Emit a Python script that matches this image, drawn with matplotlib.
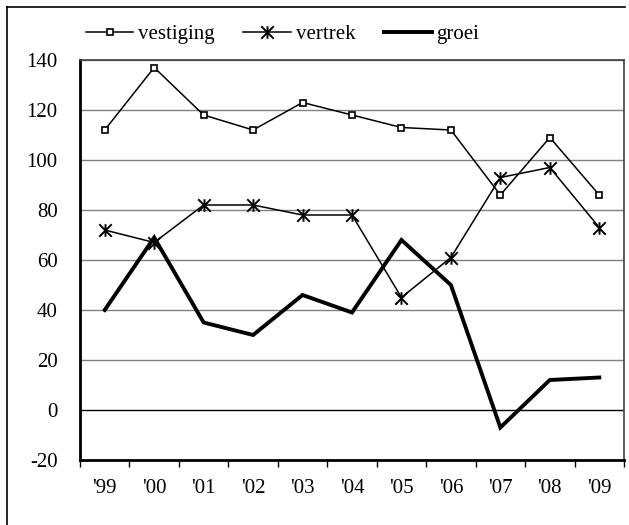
import numpy as np
import matplotlib.pyplot as plt
from matplotlib.lines import Line2D
from matplotlib.path import Path

# jaartallen en reeksen
jaren = ["'99", "'00", "'01", "'02", "'03", "'04", "'05", "'06", "'07", "'08", "'09"]
vestiging = [112, 137, 118, 112, 123, 118, 113, 112, 86, 109, 86]
vertrek = [72, 67, 82, 82, 78, 78, 45, 61, 93, 97, 73]
groei = [40, 69, 35, 30, 46, 39, 68, 50, -7, 12, 13]

plt.rcParams['font.family'] = ['Liberation Serif', 'DejaVu Serif']
plt.rcParams['axes.unicode_minus'] = False

# Excel-achtige ster: kruis met verticale streep
ster = Path([(-1, -1), (1, 1), (-1, 1), (1, -1), (0, -1), (0, 1)],
            [Path.MOVETO, Path.LINETO, Path.MOVETO, Path.LINETO,
             Path.MOVETO, Path.LINETO])

fig = plt.figure(figsize=(6.29, 5.25), dpi=100)
ax = fig.add_axes([80 / 629, 65 / 525, 544 / 629, 400 / 525])

x = np.arange(len(jaren))

# rasterlijnen
for v in range(0, 141, 20):
    ax.axhline(v, color='black' if v == 0 else '#808080', lw=1.0, zorder=1)

ax.plot(x, vestiging, color='black', lw=1.1, marker='s', markersize=5,
        markerfacecolor='white', markeredgecolor='black', markeredgewidth=1.2,
        label='vestiging', zorder=3)
ax.plot(x, vertrek, color='black', lw=1.1, marker=ster, markersize=9,
        markeredgewidth=1.4, label='vertrek', zorder=3)
ax.plot(x, groei, color='black', lw=2.8, label='groei', zorder=2,
        solid_joinstyle='miter')

ax.set_xlim(-0.5, len(jaren) - 0.5)
ax.set_ylim(-20, 140)
ax.set_yticks(range(-20, 141, 20))
ax.set_xticks(x)
ax.set_xticklabels(jaren)
ax.set_xticks(np.arange(-0.5, len(jaren), 1), minor=True)
ax.tick_params(axis='x', which='major', length=0, pad=14, labelsize=15)
ax.tick_params(axis='x', which='minor', length=5, width=1, direction='out')
ax.tick_params(axis='y', length=0, pad=16, labelsize=15)

ax.spines['left'].set_linewidth(2)
ax.spines['bottom'].set_linewidth(2)
ax.spines['top'].set_color('#404040')
ax.spines['right'].set_color('#404040')
ax.spines['top'].set_linewidth(1.2)
ax.spines['right'].set_linewidth(1.2)

leg = fig.legend(loc='center', bbox_to_anchor=(0.449, 0.935), ncol=3,
                 frameon=False, fontsize=15, handlelength=2.3,
                 handletextpad=0.2, columnspacing=1.4)

# buitenkader
fig.add_artist(Line2D([7 / 629, 7 / 629], [0, 1 - 7 / 525], color='black',
                      lw=1.2, transform=fig.transFigure))
fig.add_artist(Line2D([7 / 629, 625 / 629], [1 - 7 / 525, 1 - 7 / 525],
                      color='black', lw=1.2, transform=fig.transFigure))

plt.savefig('out.png', dpi=100)
